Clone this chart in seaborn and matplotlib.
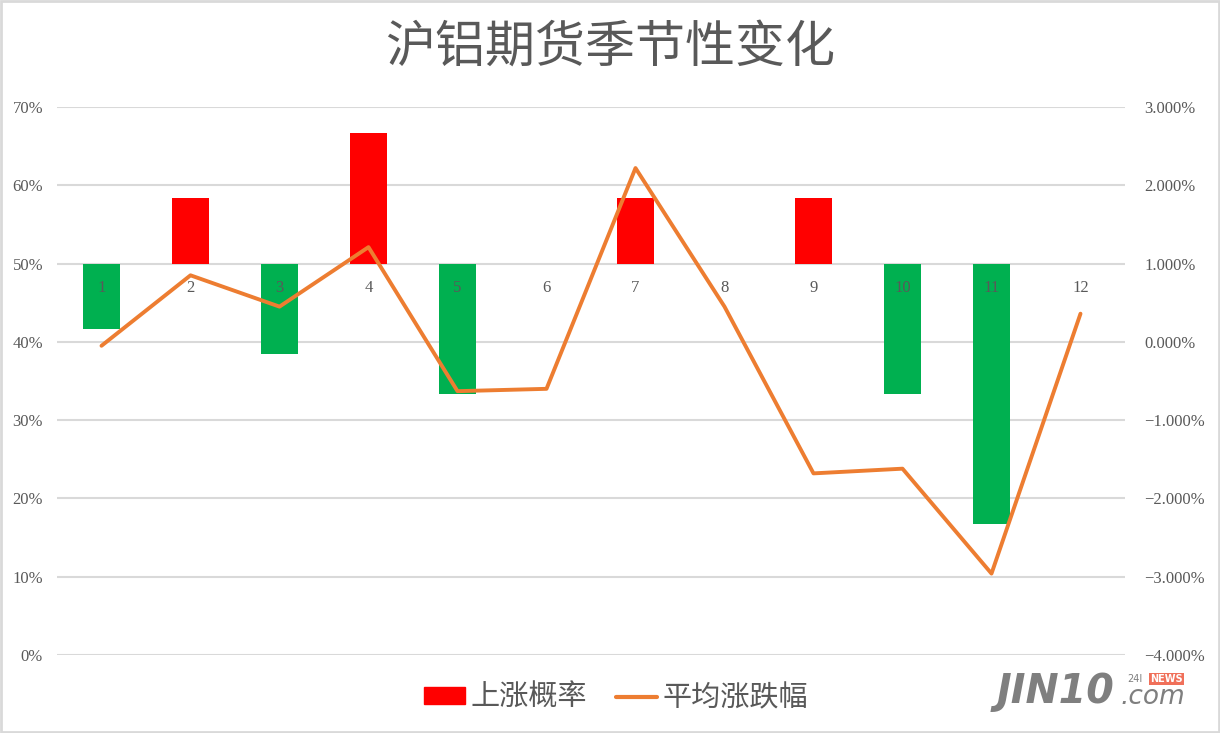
import matplotlib
matplotlib.use("Agg")
import matplotlib.pyplot as plt
import matplotlib.patches as mpatches
from matplotlib.lines import Line2D
from matplotlib.ticker import FuncFormatter, MultipleLocator
import numpy as np
import pandas as pd
import seaborn as sns

# Monthly seasonal statistics for SHFE aluminium futures
months = ["1", "2", "3", "4", "5", "6", "7", "8", "9", "10", "11", "12"]
rise_prob = [41.67, 58.33, 38.46, 66.67, 33.33, 50.0, 58.33, 50.0, 58.33, 33.33, 16.67, 50.0]  # %
avg_change = [-0.05, 0.85, 0.45, 1.21, -0.63, -0.60, 2.22, 0.45, -1.68, -1.62, -2.96, 0.36]  # %

BASE = 50.0
RED = "#FF0000"
GREEN = "#00B050"
ORANGE = "#ED7D31"
GRID = "#D9D9D9"
TXT = "#595959"

sns.set_theme(style="white")
plt.rcParams["font.family"] = ["Noto Sans CJK SC", "DejaVu Sans"]

df = pd.DataFrame({
    "month": months,
    "rise": rise_prob,
    "dev": [v - BASE for v in rise_prob],
    "change": avg_change,
})
df["dir"] = np.where(df["rise"] >= BASE, "up", "down")

fig = plt.figure(figsize=(12.2, 7.33), dpi=100)
ax = fig.add_axes([57 / 1220, 1 - 655 / 733, (1125 - 57) / 1220, (655 - 107) / 733])

# bars grow from the 50% line
sns.barplot(data=df, x="month", y="dev", hue="dir", palette={"up": RED, "down": GREEN},
            order=months, hue_order=["up", "down"], dodge=False, width=0.41,
            bottom=BASE, linewidth=0, saturation=1, legend=False, ax=ax, zorder=2)

ax.set_ylim(0, 70)
ax.yaxis.set_major_locator(MultipleLocator(10))
ax.yaxis.set_major_formatter(FuncFormatter(lambda v, p: f"{v:.0f}%"))
ax.grid(axis="y", color=GRID, linewidth=1.5, zorder=0)
ax.set_axisbelow(True)
for s in ax.spines.values():
    s.set_visible(False)
ax.tick_params(axis="x", length=0, labelbottom=False)
ax.tick_params(axis="y", length=0, pad=10, labelsize=12, labelcolor=TXT)
for lab in ax.get_yticklabels():
    lab.set_family("Liberation Serif")
ax.set_xlabel("")
ax.set_ylabel("")
ax.set_xlim(-0.5, 11.5)

# average change on the secondary axis
ax2 = ax.twinx()
sns.lineplot(x=np.arange(len(months)), y=df["change"], color=ORANGE, linewidth=2.8,
             ax=ax2, zorder=3, solid_capstyle="round", solid_joinstyle="round")
ax2.set_ylim(-4, 3)
ax2.yaxis.set_major_locator(MultipleLocator(1))
ax2.yaxis.set_major_formatter(FuncFormatter(lambda v, p: f"{v:.3f}%".replace("-", "\u2212")))
for s in ax2.spines.values():
    s.set_visible(False)
# month labels sit just under the 50% line (1% on the right scale), above the bars
ax2.xaxis.set_visible(True)
ax2.spines["bottom"].set_position(("data", 1.0))
ax2.set_xticks(np.arange(len(months)))
ax2.set_xticklabels(months)
ax2.tick_params(axis="x", length=0, pad=12, labelsize=12, labelcolor=TXT,
                labelbottom=True, labeltop=False, bottom=True)
ax2.tick_params(axis="y", length=0, pad=14, labelsize=12, labelcolor=TXT)
for lab in ax2.get_yticklabels() + ax2.get_xticklabels():
    lab.set_family("Liberation Serif")
ax2.set_ylabel("")
ax2.set_xlabel("")
ax2.set_xlim(-0.5, 11.5)

fig.text(0.5, 1 - 48 / 733, "沪铝期货季节性变化", ha="center", va="center",
         fontsize=36, color=TXT)

handles = [mpatches.Patch(color=RED, label="上涨概率"),
           Line2D([0], [0], color=ORANGE, linewidth=3, label="平均涨跌幅")]
fig.legend(handles=handles, loc="center", bbox_to_anchor=(0.505, 1 - 698 / 733),
           ncol=2, frameon=False, fontsize=21, labelcolor=TXT,
           handlelength=1.4, handleheight=0.5, handletextpad=0.2, columnspacing=1.0)

# site mark in the lower right corner
fig.text(997 / 1220, 1 - 692 / 733, "JIN10", fontsize=28.5, fontweight="bold",
         style="italic", color="#7F7F7F", ha="left", va="center", family="DejaVu Sans")
fig.text(1120 / 1220, 1 - 697 / 733, ".com", fontsize=19, style="italic",
         color="#7F7F7F", ha="left", va="center", family="DejaVu Sans")
fig.text(1127 / 1220, 1 - 679 / 733, "24I", fontsize=7, color="#7F7F7F",
         ha="left", va="center", family="DejaVu Sans")
fig.text(1150 / 1220, 1 - 679 / 733, "NEWS", fontsize=7, fontweight="bold", color="white",
         ha="left", va="center", family="DejaVu Sans",
         bbox=dict(boxstyle="square,pad=0.1", fc="#F0705A", ec="none"))

# thin frame around the figure
fig.patches.append(mpatches.Rectangle((0.001, 0.001), 0.998, 0.997, transform=fig.transFigure,
                                      fill=False, edgecolor="#D9D9D9", linewidth=2))

fig.savefig("out.png", dpi=100)
